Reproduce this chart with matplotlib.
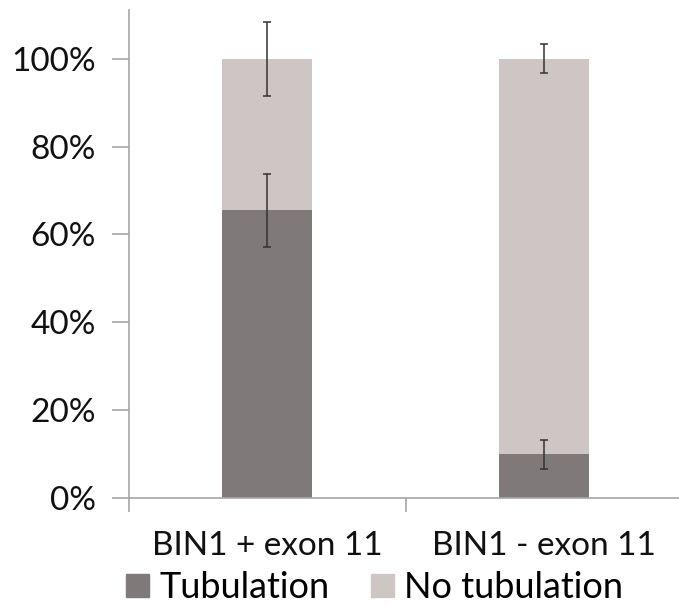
import matplotlib.pyplot as plt
from matplotlib.patches import Patch
from matplotlib.ticker import FixedLocator

plt.rcParams['font.family'] = ['Lato', 'DejaVu Sans']

categories = ["BIN1 + exon 11", "BIN1 - exon 11"]
tubulation = [65.5, 10.0]
no_tubulation = [34.5, 90.0]
tubulation_err = [8.3, 3.3]
no_tubulation_err = [8.4, 3.3]

dark = "#7f7a79"
light = "#cdc6c5"
axis_grey = "#a6a6a6"

fig = plt.figure(figsize=(6.79, 6.06), dpi=100)
ax = fig.add_axes([0.19, 0.178, 0.815, 0.805])

x = [0, 1]
ax.bar(x, tubulation, width=0.325, color=dark, label="Tubulation", zorder=2)
ax.bar(x, no_tubulation, width=0.325, bottom=tubulation, color=light,
       label="No tubulation", zorder=2)

tops = [t + n for t, n in zip(tubulation, no_tubulation)]
ax.errorbar(x, tubulation, yerr=tubulation_err, fmt="none", ecolor="#333333",
            elinewidth=1.1, capsize=3, capthick=1.1, zorder=3)
ax.errorbar(x, tops, yerr=no_tubulation_err, fmt="none", ecolor="#333333",
            elinewidth=1.1, capsize=3, capthick=1.1, zorder=3)

ax.set_xlim(-0.5, 1.5)
ax.set_ylim(0, 111)
ax.set_yticks([0, 20, 40, 60, 80, 100])
ax.set_yticklabels(["0%", "20%", "40%", "60%", "80%", "100%"])
ax.set_xticks(x)
ax.set_xticklabels(categories)
ax.xaxis.set_minor_locator(FixedLocator([-0.5, 0.5, 1.5]))

for side in ["top", "right"]:
    ax.spines[side].set_visible(False)
for side in ["left", "bottom"]:
    ax.spines[side].set_color(axis_grey)
    ax.spines[side].set_linewidth(1.2)

ax.tick_params(axis="y", length=12, width=1.2, color=axis_grey, labelsize=24,
               pad=12, labelcolor="#111111")
ax.tick_params(axis="x", which="major", length=0, labelsize=24, pad=24,
               labelcolor="#111111")
ax.tick_params(axis="x", which="minor", length=10, width=1.2, color=axis_grey)

handles = [Patch(color=dark, label="Tubulation"),
           Patch(color=light, label="No tubulation")]
fig.legend(handles=handles, loc="center left", bbox_to_anchor=(0.186, 0.03),
           ncol=2, frameon=False, fontsize=26, handlelength=0.62,
           handleheight=0.62, handletextpad=0.3, columnspacing=1.15,
           borderpad=0, borderaxespad=0)

fig.savefig("out.png", dpi=100)
